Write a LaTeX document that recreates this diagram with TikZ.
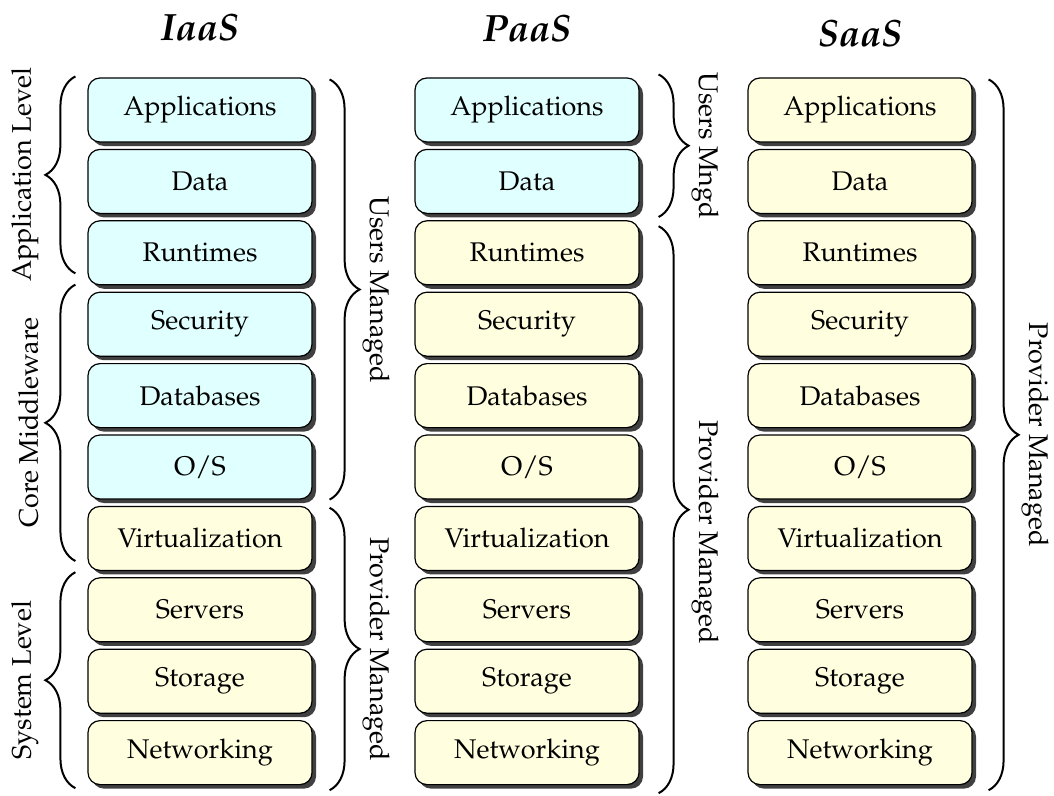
\documentclass[tikz,border=0pt]{standalone}
\usepackage[T1]{fontenc}
\usepackage{mathpazo}
\usetikzlibrary{shadows}
\usetikzlibrary{decorations.pathreplacing}

\definecolor{usrfill}{HTML}{E0FFFF}
\definecolor{prvfill}{HTML}{FFFFE0}

\tikzset{
  layer/.style={draw, line width=1.2pt, rounded corners=12pt,
    minimum width=224pt, minimum height=64pt, inner sep=0pt,
    font=\fontsize{27}{31}\selectfont,
    drop shadow={shadow xshift=4pt, shadow yshift=-4pt, fill=black!75, opacity=1}},
  usrbox/.style={layer, fill=usrfill},
  prvbox/.style={layer, fill=prvfill},
  title/.style={font=\fontsize{38}{44}\selectfont\bfseries\itshape, anchor=base},
  brc/.style={decorate, decoration={brace, amplitude=30pt}, line width=2pt},
  side/.style={font=\fontsize{27}{31}\selectfont, inner sep=2pt},
  lblleft/.style={side, midway, xshift=-34pt, rotate=90, anchor=south},
  lblright/.style={side, midway, xshift=30pt, rotate=-90, anchor=south}
}

\begin{document}
\begin{tikzpicture}[x=1pt,y=-1pt]
\useasboundingbox (0,0) rectangle (1054,795);
\foreach \col/\cx/\nu in {iaas/200/6,paas/527/2,saas/860/0} {
 \foreach \lbl [count=\i] in {Applications,Data,Runtimes,Security,Databases,O/S,Virtualization,Servers,Storage,Networking} {
  \ifnum\i>\nu\relax \def\sty{prvbox}\else \def\sty{usrbox}\fi
  \node[\sty] (\col\i) at (\cx,{110+71.4*(\i-1)}) {\lbl};
 }
}
\node[title] (tiaas) at (200,40) {IaaS};
\node[title] (tpaas) at (527,41) {PaaS};
\node[title] (tsaas) at (860,46) {SaaS};
% IaaS, left side
\draw[brc] ([xshift=-12pt,yshift=12pt]iaas3.south west) -- ([xshift=-12pt,yshift=1pt]iaas1.north west)
  node[lblleft] {Application Level};
\draw[brc] ([xshift=-12pt,yshift=10pt]iaas7.south west) -- ([xshift=-12pt,yshift=7pt]iaas4.north west)
  node[lblleft] {Core Middleware};
\draw[brc] ([xshift=-12pt,yshift=-3pt]iaas10.south west) -- ([xshift=-12pt,yshift=5pt]iaas8.north west)
  node[lblleft] {System Level};
% IaaS, right side
\draw[brc] ([xshift=17pt,yshift=-2pt]iaas1.north east) -- ([xshift=17pt]iaas6.south east)
  node[lblright] {Users Managed};
\draw[brc] ([xshift=17pt,yshift=-2pt]iaas7.north east) -- ([xshift=17pt,yshift=-5pt]iaas10.south east)
  node[lblright] {Provider Managed};
% PaaS
\draw[brc] ([xshift=19pt,yshift=3pt]paas1.north east) -- ([xshift=19pt,yshift=-3pt]paas2.south east)
  node[lblright] {Users Mngd};
\draw[brc] ([xshift=19pt,yshift=-6pt]paas3.north east) -- ([xshift=19pt,yshift=-8pt]paas10.south east)
  node[lblright, pos=0.54] {Provider Managed};
% SaaS
\draw[brc] ([xshift=16pt,yshift=-2pt]saas1.north east) -- ([xshift=16pt,yshift=-5pt]saas10.south east)
  node[lblright] {Provider Managed};
\end{tikzpicture}
\end{document}
